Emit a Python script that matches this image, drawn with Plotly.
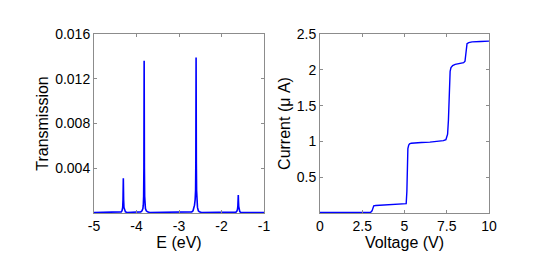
import plotly.graph_objects as go

# ---- Left panel: transmission vs energy ----
energy = [-5.0, -4.45, -4.40, -4.36, -4.34, -4.325, -4.317, -4.312, -4.31, -4.308, -4.303, -4.295, -4.28, -4.26, -4.22,
          -3.95, -3.90, -3.87, -3.85, -3.84, -3.832, -3.826, -3.823, -3.82, -3.817, -3.814, -3.808, -3.80, -3.79, -3.77, -3.74, -3.69,
          -2.75, -2.70, -2.67, -2.65, -2.635, -2.62, -2.61, -2.604, -2.601, -2.598, -2.595, -2.592, -2.586, -2.578, -2.565, -2.545, -2.52, -2.47,
          -1.70, -1.66, -1.64, -1.625, -1.615, -1.609, -1.605, -1.601, -1.595, -1.585, -1.57, -1.55,
          -1.0]
transmission = [0.00003, 0.00004, 0.00006, 0.0001, 0.0002, 0.0005, 0.0012, 0.0026, 0.0031, 0.0026, 0.0012, 0.0005, 0.0002, 0.0001, 0.00005,
                0.00005, 0.0001, 0.0002, 0.0004, 0.0007, 0.0015, 0.004, 0.008, 0.0136, 0.008, 0.004, 0.0015, 0.0007, 0.0004, 0.0002, 0.0001, 0.00005,
                0.00005, 0.0001, 0.0002, 0.0004, 0.0007, 0.0012, 0.002, 0.0045, 0.009, 0.0139, 0.009, 0.0045, 0.002, 0.0009, 0.0005, 0.0002, 0.0001, 0.00005,
                0.00004, 0.00008, 0.00015, 0.0003, 0.0006, 0.0011, 0.0016, 0.0011, 0.0006, 0.0003, 0.00012, 0.00005,
                0.00003]

# ---- Right panel: current vs voltage ----
voltage = [0, 1, 2, 3.0, 3.08, 3.12, 3.18, 3.3, 4, 4.5, 5.0, 5.1, 5.14, 5.17, 5.2, 5.25, 5.3, 5.4, 5.6, 6, 6.5, 7, 7.3, 7.45,
           7.55, 7.6, 7.63, 7.66, 7.7, 7.75, 7.85, 8.0, 8.3, 8.5, 8.58, 8.62, 8.65, 8.7, 8.8, 9.0, 9.5, 10]
current = [0.008, 0.008, 0.008, 0.01, 0.03, 0.07, 0.10, 0.105, 0.115, 0.12, 0.125, 0.13, 0.3, 0.7, 0.9, 0.95, 0.965, 0.975, 0.98, 0.985, 0.99, 1.0, 1.01, 1.025,
           1.1, 1.3, 1.6, 1.9, 1.98, 2.03, 2.06, 2.075, 2.085, 2.10, 2.12, 2.2, 2.32, 2.365, 2.38, 2.39, 2.395, 2.40]

e_ticks = [-5, -4, -3, -2, -1]
e_labels = ["-5", "-4", "-3", "-2", "-1"]
t_ticks = [0.004, 0.008, 0.012, 0.016]
t_labels = ["0.004", "0.008", "0.012", "0.016"]
v_ticks = [0, 2.5, 5, 7.5, 10]
v_labels = ["0", "2.5", "5", "7.5", "10"]
i_ticks = [0.5, 1, 1.5, 2, 2.5]
i_labels = ["0.5", "1", "1.5", "2", "2.5"]

OFF = 8  # page body margin
W, H = 545 - OFF, 273 - OFF
blue = "#0000ff"
axcol = "#8c8c8c"
font = "Liberation Sans, Arial, sans-serif"

fig = go.Figure()
fig.add_trace(go.Scatter(x=energy, y=transmission, mode="lines", line=dict(color=blue, width=1.6),
                         xaxis="x", yaxis="y", showlegend=False))
fig.add_trace(go.Scatter(x=voltage, y=current, mode="lines", line=dict(color=blue, width=1.4),
                         xaxis="x2", yaxis="y2", showlegend=False))

def px(v):
    return (v - OFF) / W

def py(v):
    return 1 - (v - OFF) / H

common = dict(showline=True, linecolor=axcol, linewidth=1, mirror="ticks", ticks="inside",
              ticklen=3, tickcolor=axcol, showgrid=False, zeroline=False, automargin=False,
              tickfont=dict(family=font, size=14, color="#000000"))
tfont = dict(family=font, size=16, color="#000000")

fig.update_layout(
    width=W, height=H, margin=dict(l=0, r=0, t=0, b=0),
    paper_bgcolor="white", plot_bgcolor="white",
    xaxis=dict(domain=[px(94), px(264)], range=[-5, -1], tickvals=e_ticks, ticktext=e_labels, anchor="y",
               title=dict(text="E (eV)", font=tfont, standoff=2), **common),
    yaxis=dict(domain=[py(213), py(34)], range=[0, 0.016], tickvals=t_ticks, ticktext=t_labels, anchor="x",
               title=dict(text="Transmission", font=tfont, standoff=2), **common),
    xaxis2=dict(domain=[px(320), px(489)], range=[0, 10], tickvals=v_ticks, ticktext=v_labels, anchor="y2",
                title=dict(text="Voltage (V)", font=tfont, standoff=2), **common),
    yaxis2=dict(domain=[py(213), py(34)], range=[0, 2.5], tickvals=i_ticks, ticktext=i_labels, anchor="x2",
                title=dict(text="Current (μ A)", font=tfont, standoff=2), **common),
)

fig.write_html("out.html")
